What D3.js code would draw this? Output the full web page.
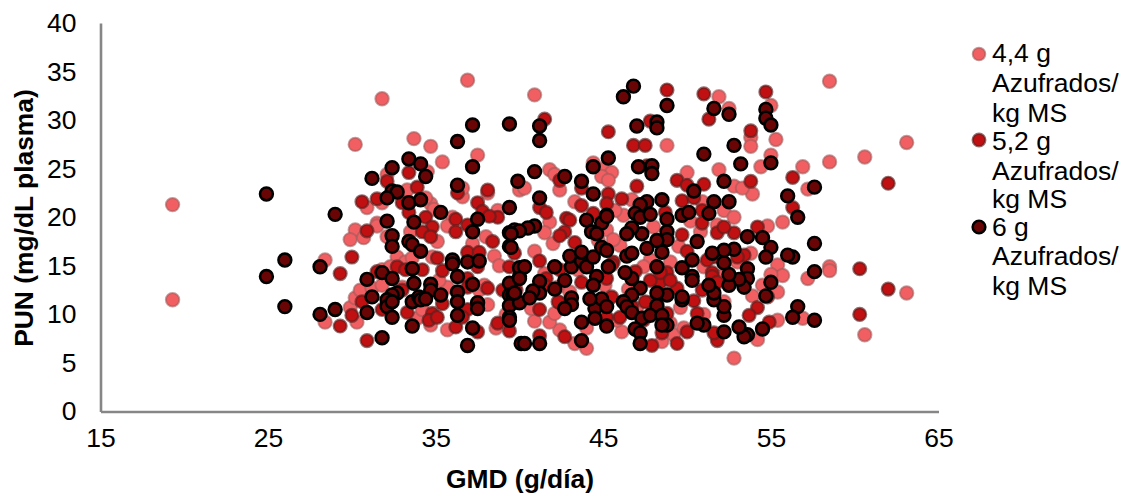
<!DOCTYPE html>
<html><head><meta charset="utf-8">
<script src="https://cdn.jsdelivr.net/npm/d3@7"></script>
<style>html,body{margin:0;background:#fff}svg{display:block}text{font-family:"Liberation Sans",Arial,sans-serif;fill:#000}</style>
</head><body><svg id="c" width="1128" height="496"></svg>
<script>
const xTicks=[15,25,35,45,55,65];
const yTicks=[0,5,10,15,20,25,30,35,40];
const legendLabels=[["4,4 g","Azufrados/","kg MS"],["5,2 g","Azufrados/","kg MS"],["6 g","Azufrados/","kg MS"]];
const pink=[[19.3,21.3],[31.8,32.2],[36.9,34.1],[30.2,27.5],[33.7,28.1],[34.7,27.3],[35.4,25.7],[37.5,26.4],[30.9,21],[36.6,22.1],[36.6,23],[34.7,21.4],[34.4,22],[32.1,24.4],[34.5,24.7],[31.8,21.5],[33.3,22.8],[38.1,22.5],[38.7,20.7],[36,20],[31.5,19.4],[40,22.8],
[19.3,11.5],[28.4,15.6],[28.4,9.2],[30.2,18.7],[29.9,17.7],[31.5,19.1],[30.7,17.9],[32.1,18],[35.1,17.5],[35.7,19.1],[32.7,15.9],[33.2,15.4],[33.6,15.8],[34.8,15.9],[31.8,14.6],[35.7,12.8],[38.1,11],[35.7,8.4],[38.6,8.6],[30.3,9.2],[29.9,10.7],[30.2,11.7],[30.5,12.5],[31.2,12.7],[31.8,13],[33.9,9.6],[34.7,8.9],[34.2,10.5],[37.6,12.5],[37.2,17.3],[33,12.8],[32.3,14.9],
[40.9,32.6],[51.9,32.4],[52.5,31.2],[55,31.5],[48.8,27.4],[53.8,28.2],[53.8,27.3],[55.3,28],[55,26.4],[54.4,25.2],[51.9,24.9],[50,24.6],[56.9,25.2],[58.5,25.7],[60.6,26.2],[63.1,27.7],[58.5,34],[57.2,22.9],[52.8,23.2],[53.9,22.4],[53.3,23],[41.8,24.9],[42.1,24.4],[40.3,23],[42.4,22.8],[44.4,25.6],[45,25],[45.5,24.6],[44.9,24.2],[45.3,23.8],[43.3,21.6],[41.8,19.5],[46.2,20.2],[45.7,20.7],[52.2,20.7],[52.8,20],[55.7,19.5],[50.9,21.6],
[52.8,5.5],[60.6,7.9],[63.1,12.2],[58.5,14.9],[58.5,14.5],[57.2,13.7],[56.9,9.6],[55.4,9.4],[55.4,15.1],[55.7,14],[55.4,12.3],[55,14.1],[53.9,11.9],[54.8,19.1],[53.8,16.3],[54.2,7.4],[44,6.5],[43.3,7],[42.4,8.4],[40.9,9.3],[41.8,9.2],[42.1,10.1],[46.1,8.2],[48.5,7.2],[49.2,7.9],[49.8,8.6],[44,8.6],[40.9,16.5],[41.5,18.4],[45.2,18.7],[52.2,11.3],[51.8,19.2],[49,15.4],[51,14.9],[52,13.9],[42.3,12.8],[43.5,14.6],[46,17.1],[45.1,13],[47.8,15.6],[49,9.1],[42,17.3],
[38,18],[38.5,16],[37.9,13],[39.2,10],[38.8,15],[35.2,13.5],[33.5,18.5],[34.9,20.8],[46.5,12.6],[47.4,14.9],[48,19],[49.5,17],[50.8,18.5],[44.7,17.6],[43,12.3],[41.5,14.2],[40.7,10.6],[46.7,21.8],[50.2,19.6],[53,15.4],[54.5,13],[47,10.6],[45.8,9.4],[51,10],[49.6,10.7],[45.6,17.7]];
const red=[[38.1,22.8],[36.3,22.5],[33.4,24.6],[32.1,23.7],[30.6,21.6],[31.5,21.9],[33.9,23.1],[33,21.5],[33.4,20.5],[34.4,20],[37.5,21.5],[37.8,20.6],[36.2,19.8],[38.7,20],[38.2,20.1],
[30.9,18.6],[34.8,19],[34.2,18.5],[34.7,18],[36.2,18.5],[36.9,19.2],[38.4,17.5],[30,15.9],[29.3,14.2],[35.1,15.8],[35.4,14.5],[34.2,14.6],[36.9,16.4],[37.6,16.4],[37.5,14.9],[36.9,13.7],[38.1,12.7],[31.5,14.4],[30.6,11.3],[30,9.9],[29.3,8.8],[30.9,7.3],[31.8,10.5],[33.3,10.2],[34.8,10.1],[34.6,9.4],[35.1,9.7],[35.4,11.1],[36.2,8.7],[37.5,8.2],[36.9,10.5],[38.7,9.1],[39.4,8.3],[39.4,14.9],[39.7,16.3],[39,12.5],
[41.5,30.1],[45.3,28.8],[48.8,33.1],[51,32.7],[54.7,32.9],[47.8,29.9],[51.3,30.1],[53.8,28.9],[46.8,27.4],[47.5,27.4],[47.6,25.3],[42.4,23.8],[43.7,23],[47,23.2],[49.4,23.8],[50,23.3],[51,23.4],[53.8,23.7],[56.3,24.1],[62,23.5],[56.3,21],[41.2,21],[41.6,20.5],[42.8,19.9],[43,19.7],[43.7,21.2],[45.3,22.4],[45.2,21.4],[46.1,21.9],[49.7,21.7],[50.4,22],[50.9,20.7],[44.4,20.4],[48.7,20.5],
[60.3,14.7],[60.3,10],[62,12.6],[54.2,19],[54.2,10.7],[53.7,9.9],[54.9,9.2],[51.8,18.4],[52.8,18.4],[49.7,18.2],[50,16.5],[52.2,19],[51.8,7.3],[49.4,7],[50,8.2],[47.9,6.8],[48.5,8.1],[46,9.7],[45.2,9.7],[42.7,7.7],[41.2,10.5],[41.2,7.8],[41.2,15.5],[43.7,13.3],[42.4,11.2],[42.7,18.5],[42.4,18.1],[43.3,17.4],[48.4,13.3],[47.8,13.5],[48.8,14.3],[49.4,12.7],[50.4,11.4],[50.9,12.5],[51.5,14.3],[53.4,16.1],[45.2,13.7],[45.5,11.8],[45.6,15.4],[46.9,14.4],[50.6,10.1],[51.6,8.1],
[42.4,14.6],[39.8,12.5],[41.6,13.7],[41.5,13],[42.3,11.3],[45.5,15.1],[48.4,14.3],[49,13.5],[51.5,13.9],[51.8,13.3],[53,15.9],[51.6,15.9],[51.2,15.6],[47.8,11.2],[47.5,11.3],[46.7,10.8],[47.4,9.4],[48.8,10.1],[50.9,19.4],[54.8,11.8],[32.7,14.9],[33.2,14.6],[33,12.5],[36.9,12.8],[36.6,9.7]];
const dark=[[24.9,22.4],[29,20.3],[37.2,29.5],[39.4,29.6],[36.3,27.8],[37.2,25.2],[39.9,23.7],[36.3,23.3],[33.4,26],[34.1,25.5],[32.4,25.1],[34.4,24.2],[31.2,24],[32.4,22.7],[32.7,22.6],[32.1,22],[33.4,21.5],[34.1,21.8],[35.3,20.5],[37.5,19.8],[39.4,21],[32.1,19.6],[33.7,19.5],
[37.2,18.5],[39.4,18.4],[39.4,17],[39.7,18.7],[32.4,18.1],[32.4,17],[33.4,17.5],[33.6,17.2],[34.1,16.5],[36,15.6],[36,15.2],[36.9,15.4],[37.6,15.5],[26,15.6],[24.9,13.9],[26,10.8],[28.1,14.9],[28.1,10],[29,10.5],[30.9,13.6],[31.2,11.8],[30.9,10.2],[31.8,14.3],[32.4,13.7],[33.6,14.7],[33.7,13.2],[34.7,13.1],[34.7,12.5],[35.3,12],[32.7,12.2],[32.4,12],[32.1,11.5],[32.1,10.8],[32.4,11.3],[32.4,9.7],[33.6,11.3],[34,11.8],[34.1,11.5],[34.4,11.6],[33.6,8.8],[31.8,7.6],[36.3,13.9],[37.2,13.1],[36.3,12.3],[36.3,11.3],[36.3,9.9],[37.5,11.2],[37.5,10.6],[37.2,8.6],[36.9,6.8],[39.4,13.2],[39.4,12],[39.6,12],[39.4,10.9],[39.4,9.7],[39.4,9.4],[40.1,7],[40,13.9],[40,14.8],
[41.2,29.4],[41.2,27.9],[40.9,24.7],[41.2,22],[42.7,24.2],[43.7,23.7],[44.4,22.4],[44.4,25.2],[45.3,26.1],[46.8,33.5],[46.2,32.4],[48.8,31.5],[47,29.4],[48.2,29.8],[48.2,29.2],[51.6,31.2],[52.5,30.6],[54.7,31.1],[54.7,30.2],[55,29.5],[52.8,27.4],[51,26.5],[53.2,25.5],[55,25.6],[47.1,25.2],[47.9,25.3],[47.9,24.5],[52.2,23.7],[50.4,22.7],[47.6,21.6],[48.5,21.8],[51.6,21.6],[52.5,21.6],[56,22.2],[57.6,23.1],[56.6,20],[47.2,21.3],[46.9,20.4],[47.2,20],[47.8,20.3],[45.2,20.2],[44,19.7],[48.8,19.8],[49.7,20.2],[50.1,20.5],[51.3,20.4],
[57.6,17.3],[57.6,14.4],[57.6,9.4],[56.3,15.9],[56,16.1],[56.6,10.8],[56.3,9.7],[55,13.3],[54.7,11.9],[53.6,18],[54.5,17.9],[55,16.9],[54.7,15.9],[54.5,8.5],[53.6,7.9],[53.4,7.7],[53.1,8.7],[53.6,14.7],[53.6,13.7],[53.4,12.8],[53.1,13.6],[52.5,13],[52.5,14.1],[52.2,15.3],[52.8,16.7],[52.2,16.6],[51.5,16.3],[52.2,9.9],[52.2,10.8],[52.2,8.2],[51.6,11.5],[51.6,12.2],[51.3,13],[51,8.9],[50.6,9.1],[50.6,17.5],[50.3,15.6],[49.7,14.8],[50.3,13.9],[50.3,13.5],[49.7,11.5],[49.7,11.8],[48.2,14.9],[48.8,18.5],[48.8,17.7],[48.2,17.6],[48.5,16.4],[47.6,16.8],[47.3,18.3],[46.7,18.9],[46.4,18.3],[46.4,16],[46.7,16.3],[48.8,12],[48.2,12.2],[47.2,12.7],[46.7,13.7],[46.3,14.3],[46.7,12],[46.2,11.3],[46.4,10.8],[46.7,10.2],[47.3,9.6],[48.2,10.9],[47.8,9.9],[48.5,9.9],[48.8,8.9],[48.5,8.9],[46.9,8.5],[47.2,8.1],[47.2,7],[45.2,8.8],[43.7,9.2],[43.7,7.3],[44.5,10.6],[44.5,9.6],[44.9,11.6],[45.2,10.8],[44.2,11.6],[43.1,11.7],[43.1,11],[42.7,10.6],[42.1,12.6],[42.7,13.5],[42.1,14.9],[43.1,14.9],[43,16],[43.7,15.5],[43.7,16.4],[44,14.9],[44.4,15.9],[44.9,16.9],[45.2,16.6],[44.6,13.9],[44.4,13],[45.3,14.9],[44.9,19.4],[45.2,20.1],[44.3,18.5],[44.6,18.3],[41.2,13.4],[41.2,12.2],[40.8,12.4],[40.3,14.9],[40,13.7],[40,11.2],[40.6,11.7],[39.7,12.2],[40.3,7],[41.2,7],[40.9,19.1],[40.5,18.9],[40,18.6],[39.5,18.3],[39.5,16.9]];

const styles=[
 {data:pink,fill:"#f25f62",stroke:"rgba(160,90,90,.6)",sw:2},
 {data:red,fill:"#c01011",stroke:"rgba(90,30,30,.65)",sw:2.3},
 {data:dark,fill:"#6a0505",stroke:"#000",sw:2.6}];
const svg=d3.select("#c");
const x=d3.scaleLinear().domain([15,65]).range([100.5,938.5]);
const y=d3.scaleLinear().domain([0,40]).range([411.5,23]);
const fs=26.5;
styles.forEach(s=>{
 svg.append("g").selectAll("circle").data(s.data).join("circle")
  .attr("cx",d=>x(d[0])).attr("cy",d=>y(d[1])).attr("r",s===styles[0]?6.7:6.4)
  .attr("fill",s.fill).attr("stroke",s.stroke).attr("stroke-width",s.sw);
});
const gx=svg.append("g").attr("transform","translate(0,411.5)").call(d3.axisBottom(x).tickValues(xTicks).tickSize(0).tickPadding(17).tickFormat(d3.format("d")));
const gy=svg.append("g").attr("transform","translate(100.5,0)").call(d3.axisLeft(y).tickValues(yTicks).tickSize(0).tickPadding(24).tickFormat(d3.format("d")));
[gx,gy].forEach(g=>{g.selectAll("text").style("font-size",fs+"px").style("font-family",'"Liberation Sans"').attr("fill","#000");
 g.select(".domain").attr("stroke","#868686").attr("stroke-width",2.6);});
svg.append("text").attr("x",520).attr("y",488).attr("text-anchor","middle").attr("font-weight","bold").attr("font-size",26.4).text("GMD (g/día)");
svg.append("text").attr("transform","translate(33,218) rotate(-90)").attr("text-anchor","middle").attr("font-weight","bold").attr("font-size",26.4).text("PUN (mg/dL plasma)");
const legendY=[54,140,227],legendBase=[[62,92,122],[150,180,208],[236,265,295]];
legendLabels.forEach((lines,i)=>{
 const s=styles[i];
 svg.append("circle").attr("cx",979).attr("cy",legendY[i]).attr("r",6.3).attr("fill",s.fill).attr("stroke",s.stroke).attr("stroke-width",s.sw);
 lines.forEach((t,j)=>svg.append("text").attr("x",992).attr("y",legendBase[i][j]).attr("font-size",fs).text(t));
});
</script></body></html>
